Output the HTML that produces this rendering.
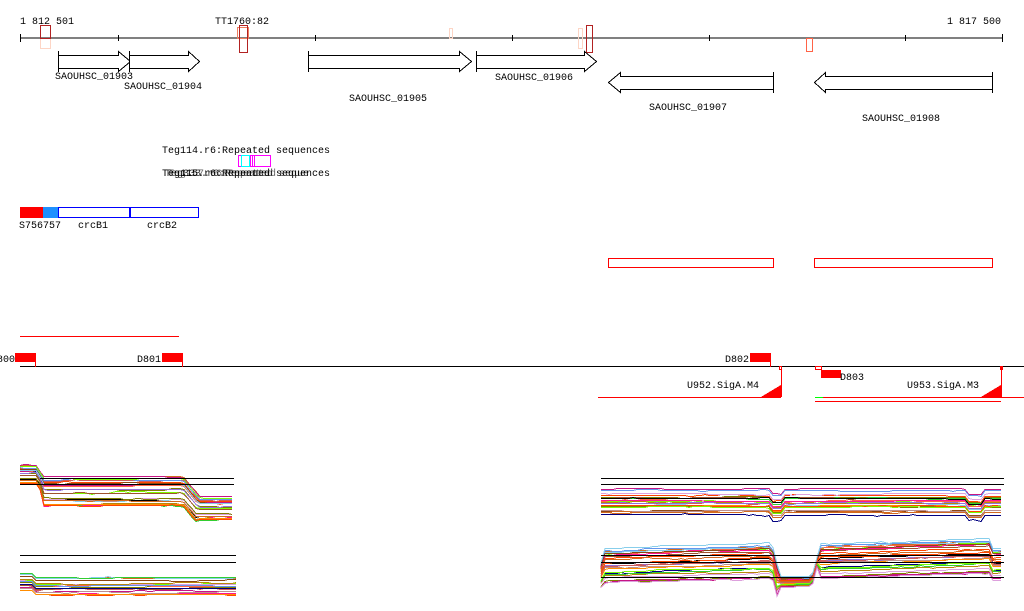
<!DOCTYPE html>
<html><head><meta charset="utf-8"><style>
html,body{margin:0;padding:0;background:#fff;width:1024px;height:611px;overflow:hidden}
svg{display:block}
text{font-family:"Liberation Mono","DejaVu Sans Mono",monospace;font-size:10px;fill:#000}
</style></head><body>
<svg id="s" width="1024" height="611" xmlns="http://www.w3.org/2000/svg" shape-rendering="crispEdges">
<line x1="20" y1="38" x2="1003" y2="38" stroke="#000"/>
<g stroke="#000">
<line x1="20.5" y1="34" x2="20.5" y2="42"/><line x1="118.5" y1="35" x2="118.5" y2="41"/><line x1="315.5" y1="35" x2="315.5" y2="41"/><line x1="512.5" y1="35" x2="512.5" y2="41"/><line x1="709.5" y1="35" x2="709.5" y2="41"/><line x1="905.5" y1="35" x2="905.5" y2="41"/><line x1="1002.5" y1="34" x2="1002.5" y2="42"/>
</g>
<text x="20" y="24">1 812 501</text>
<text x="215" y="24">TT1760:82</text>
<text x="947" y="24">1 817 500</text>
<g fill="none">
<rect x="40.5" y="38.5" width="10" height="10" stroke="#fdd5c5"/>
<rect x="40.5" y="25.5" width="10" height="13" stroke="#b22222"/>
<rect x="237.5" y="27.5" width="11" height="11" stroke="#f08060"/>
<rect x="239.5" y="25.5" width="8" height="27" stroke="#b22222"/>
<rect x="449.5" y="28.5" width="3" height="10" stroke="#fdd5c5"/>
<rect x="578.5" y="28.5" width="4" height="20" stroke="#fdd5c5"/>
<rect x="586.5" y="25.5" width="6" height="27" stroke="#b22222"/>
<rect x="806.5" y="38.5" width="6" height="13" stroke="#ff6347"/>
</g>
<g fill="#fff" stroke="#000">
<path d="M58.5 51V72M58.5 55.5H118.5V51.5L130.5 61.5L118.5 71.5V68.5H58.5"/>
<path d="M129.5 51V72M129.5 55.5H188.5V51.5L199.5 61.5L188.5 71.5V68.5H129.5"/>
<path d="M308.5 51V72M308.5 55.5H459.5V51.5L471.5 61.5L459.5 71.5V68.5H308.5"/>
<path d="M476.5 51V72M476.5 55.5H584.5V51.5L596.5 61.5L584.5 71.5V68.5H476.5"/>
<path d="M773.5 72V93M773.5 76.5H620.5V72.5L608.5 82.5L620.5 92.5V89.5H773.5"/>
<path d="M992.5 72V93M992.5 76.5H825.5V72.5L814.5 82.5L825.5 92.5V89.5H992.5"/>
</g>
<text x="55" y="79">SAOUHSC_01903</text>
<text x="124" y="89">SAOUHSC_01904</text>
<text x="349" y="101">SAOUHSC_01905</text>
<text x="495" y="80">SAOUHSC_01906</text>
<text x="649" y="110">SAOUHSC_01907</text>
<text x="862" y="121">SAOUHSC_01908</text>
<text x="162" y="153">Teg114.r6:Repeated sequences</text>
<g fill="none">
<rect x="238.5" y="155.5" width="3" height="11" stroke="#f0f"/>
<rect x="241.5" y="155.5" width="8" height="11" stroke="#0ff"/>
<rect x="252.5" y="155.5" width="18" height="11" stroke="#f0f"/>
<rect x="250.5" y="155.5" width="4" height="11" stroke="#f0f"/>
</g>
<text x="162" y="176">Teg115.r6:Repeated sequences</text>
<text x="165" y="176" fill-opacity="0.8">Teg333.r6:Repeated seque</text>
<text x="168" y="176" fill-opacity="0.6">Teg157.r6:Repeated</text>
<rect x="20" y="207" width="23" height="11" fill="#f00"/>
<rect x="43" y="207" width="15" height="11" fill="#1e90ff"/>
<rect x="58.5" y="207.5" width="71" height="10" fill="none" stroke="#00f"/>
<rect x="130.5" y="207.5" width="68" height="10" fill="none" stroke="#00f"/>
<text x="19" y="228">S756757</text>
<text x="78" y="228">crcB1</text>
<text x="147" y="228">crcB2</text>
<rect x="608.5" y="258.5" width="165" height="9" fill="none" stroke="#f00"/>
<rect x="814.5" y="258.5" width="178" height="9" fill="none" stroke="#f00"/>
<line x1="20" y1="336.5" x2="179" y2="336.5" stroke="#f00"/>
<line x1="20" y1="366.5" x2="1024" y2="366.5" stroke="#000"/>
<rect x="15" y="353" width="21" height="9" fill="#f00"/><line x1="35.5" y1="353" x2="35.5" y2="367" stroke="#f00"/>
<text x="-9" y="362">D800</text>
<rect x="162" y="353" width="20" height="9" fill="#f00"/><line x1="182.5" y1="353" x2="182.5" y2="367" stroke="#f00"/>
<text x="137" y="362">D801</text>
<rect x="750" y="353" width="20" height="9" fill="#f00"/><line x1="770.5" y1="353" x2="770.5" y2="367" stroke="#f00"/>
<text x="725" y="362">D802</text>
<rect x="779.5" y="366.5" width="2" height="3" fill="none" stroke="#f00"/>
<line x1="781.5" y1="366" x2="781.5" y2="397" stroke="#f00"/>
<polygon points="761,397 781,385 781,397" fill="#f00"/>
<text x="687" y="388">U952.SigA.M4</text>
<line x1="598" y1="397.5" x2="781" y2="397.5" stroke="#f00"/>
<rect x="815.5" y="366.5" width="6" height="3" fill="none" stroke="#f00"/>
<rect x="821" y="370" width="20" height="8" fill="#f00"/>
<text x="840" y="380">D803</text>
<rect x="1000.5" y="366.5" width="2" height="3" fill="none" stroke="#f00"/>
<line x1="1001.5" y1="366" x2="1001.5" y2="397" stroke="#f00"/>
<polygon points="981,397 1001,385 1001,397" fill="#f00"/>
<text x="907" y="388">U953.SigA.M3</text>
<line x1="815" y1="397.5" x2="1024" y2="397.5" stroke="#f00"/>
<line x1="815" y1="397.5" x2="823" y2="397.5" stroke="#0f0"/>
<line x1="815" y1="401.5" x2="1001" y2="401.5" stroke="#f00"/>
<g id="plots"></g>
<g stroke="#000">
<line x1="40" y1="478.5" x2="234" y2="478.5"/><line x1="20" y1="484.5" x2="234" y2="484.5"/>
<line x1="20" y1="555.5" x2="236" y2="555.5"/><line x1="20" y1="562.5" x2="236" y2="562.5"/>
<line x1="601" y1="478.5" x2="1004" y2="478.5"/><line x1="601" y1="484.5" x2="1004" y2="484.5"/>
<line x1="601" y1="555.5" x2="1004" y2="555.5"/><line x1="601" y1="562.5" x2="1004" y2="562.5"/><line x1="601" y1="577.5" x2="1004" y2="577.5"/>
</g>
</svg>
<script>
(function(){
var seed=7;function r(){seed=(seed*16807)%2147483647;return seed/2147483647;}
var cols=["#d2691e","#808000","#ff4500","#7cfc00","#c71585","#87ceeb","#cd5c5c","#dda0dd","#a0522d","#ff6347","#000080","#6495ed","#b8860b","#ff1493","#32cd32","#8b4513","#bc8f8f","#ff8c00","#9370db","#000"];
var g=document.getElementById("plots"),ns="http://www.w3.org/2000/svg";
function plot(x0,x1,n,base,spread){
 for(var i=0;i<n;i++){
  var off=r()*spread,d="",w=0,y0=null;
  for(var x=x0;x<=x1;x+=4){
   if(r()<0.15)w+=(r()-0.5)*2; w*=0.92;
   var y=Math.round(base(x,off)+w)+0.5;
   d+=(x==x0?"M":"L")+x+" "+y;
  }
  var p=document.createElementNS(ns,"path");p.setAttribute("d",d);p.setAttribute("fill","none");
  p.setAttribute("stroke",cols[i%cols.length]);p.setAttribute("stroke-width","1");
  g.appendChild(p);
 }
}
plot(20,234,26,function(x,o){if(x<38)return 465+o*0.6;if(x<42)return 465+o*0.6+(x-38)*3;if(x<183)return 476+o;if(x<200)return 476+o+(x-183)*1.2;return 496+o*0.8;},30);
plot(20,236,18,function(x,o){return 576+o+(x<35?-4:0);},20);
plot(601,1004,24,function(x,o){var b=488+o;if(x>772&&x<782)b+=5;if(x>965&&x<985)b+=5;return b;},26);
plot(601,1004,28,function(x,o){if(x<605)return 560+o*0.8;if(x<773)return 545+o*1.1-(x-605)*0.03;if(x<780)return 545+o+(x-773)*4;if(x<812)return 576+o*0.3;if(x<820)return 576+o*0.3-(x-812)*4;if(x<990)return 540+o*1.1-(x-820)*0.03;return 545+o;},36);
})();
</script>
</body></html>
